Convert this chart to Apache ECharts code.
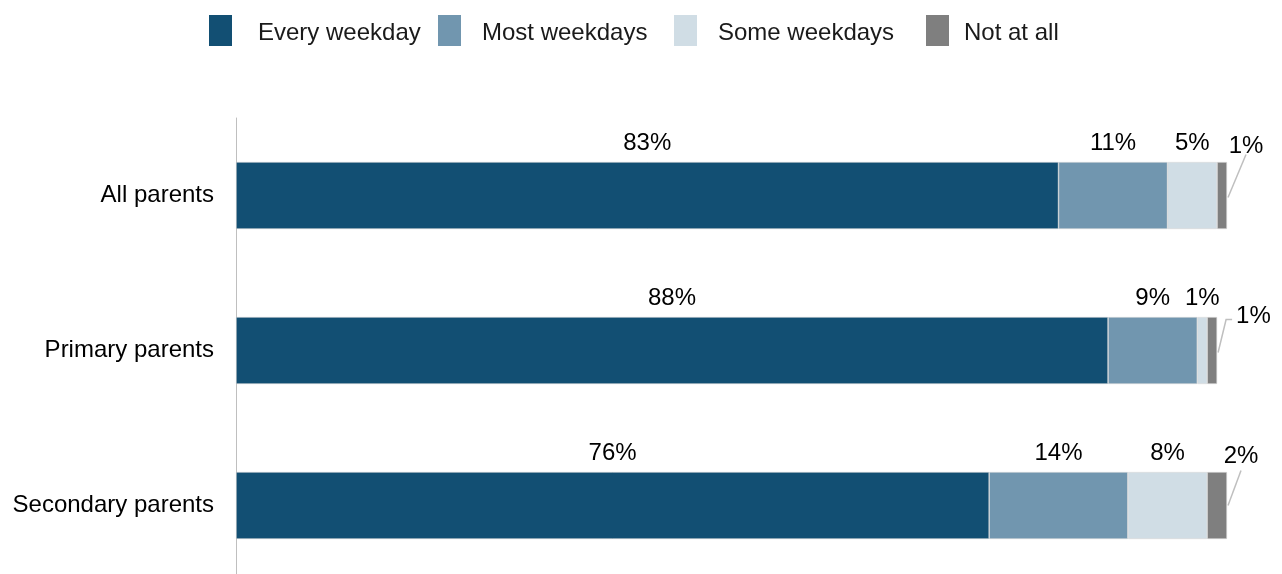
<!DOCTYPE html>
<html>
<head>
<meta charset="utf-8">
<script src="https://cdn.jsdelivr.net/npm/echarts@6/dist/echarts.min.js"></script>
<style>
  html, body { margin: 0; padding: 0; background: #fff; }
  #chart { width: 1282px; height: 574px; }
</style>
</head>
<body>
<div id="chart"></div>
<script>
// Parent groups shown as rows, top to bottom
const categories = ['All parents', 'Primary parents', 'Secondary parents'];
// Frequency answers (stack order, left to right)
const seriesNames = ['Every weekday', 'Most weekdays', 'Some weekdays', 'Not at all'];
// Percentages per group
const everyWeekday = [83, 88, 76];
const mostWeekdays = [11, 9, 14];
const someWeekdays = [5, 1, 8];
const notAtAll = [1, 1, 2];

const values = [everyWeekday, mostWeekdays, someWeekdays, notAtAll];
const colors = ['#124F73', '#7196AF', '#D0DDE5', '#7F7F7F'];
const FONT = '"Liberation Sans", Arial, sans-serif';
const FONT_SIZE = 24;

// Guide lines for the thin "Not at all" segments: offsets from the bar's right end (middle)
const guides = [
  { line: [[1, 2], [19, -41]], text: [19, -49], align: 'center' },
  { line: [[1, 2], [9, -31], [15, -31]], text: [19, -34], align: 'left' },
  { line: [[1, 0], [14, -35]], text: [14, -49], align: 'center' }
];

// Legend placement: swatch left edge and gap before its text
const legendLefts = [209, 438, 674, 926];
const legendTextGaps = [21, 16, 16, 10];

const chart = echarts.init(document.getElementById('chart'), null, { renderer: 'canvas' });

const series = seriesNames.map((name, i) => ({
  name: name,
  type: 'bar',
  stack: 'total',
  barWidth: 67,
  data: values[i],
  itemStyle: { color: colors[i], borderColor: '#D9D9D9', borderWidth: 0.6 },
  label: {
    show: i < 3,
    position: 'top',
    distance: 7,
    formatter: '{c}%',
    fontFamily: FONT,
    fontSize: FONT_SIZE,
    color: '#000'
  }
}));

// Value labels with leader lines for the "Not at all" segments
const guideData = categories.map((c, k) => [
  everyWeekday[k] + mostWeekdays[k] + someWeekdays[k] + notAtAll[k],
  k,
  notAtAll[k]
]);

series.push({
  type: 'custom',
  clip: false,
  silent: true,
  encode: { x: 0, y: 1 },
  data: guideData,
  renderItem: function (params, api) {
    const g = guides[params.dataIndex];
    const p = api.coord([api.value(0), api.value(1)]);
    return {
      type: 'group',
      children: [
        {
          type: 'polyline',
          shape: { points: g.line.map(d => [p[0] + d[0], p[1] + d[1]]) },
          style: { stroke: '#BFBFBF', lineWidth: 1.5, fill: null }
        },
        {
          type: 'text',
          x: p[0] + g.text[0],
          y: p[1] + g.text[1],
          style: {
            text: api.value(2) + '%',
            fontFamily: FONT,
            fontSize: FONT_SIZE,
            fill: '#000',
            align: g.align,
            verticalAlign: 'middle'
          }
        }
      ]
    };
  }
});

const legends = seriesNames.map((name, i) => ({
  data: [name],
  left: legendLefts[i],
  top: 15,
  padding: 0,
  itemWidth: 23,
  itemHeight: 31,
  icon: 'rect',
  selectedMode: false,
  itemStyle: { borderWidth: 0 },
  formatter: '{t|{name}}',
  textStyle: {
    fontFamily: FONT,
    fontSize: FONT_SIZE,
    color: '#1a1a1a',
    rich: {
      t: {
        fontFamily: FONT,
        fontSize: FONT_SIZE,
        color: '#1a1a1a',
        padding: [5, 0, 0, legendTextGaps[i]]
      }
    }
  }
}));

chart.setOption({
  animation: false,
  color: colors,
  legend: legends,
  grid: {
    left: 236, right: 55, top: 118, height: 465,
    containLabel: false,
    outerBoundsMode: 'none'
  },
  xAxis: {
    type: 'value',
    min: 0,
    max: 100,
    show: false
  },
  yAxis: {
    type: 'category',
    data: categories,
    inverse: true,
    axisLine: { show: true, lineStyle: { color: '#BFBFBF', width: 1 } },
    axisTick: { show: false },
    axisLabel: {
      fontFamily: FONT,
      fontSize: FONT_SIZE,
      color: '#000',
      margin: 22,
      padding: [3, 0, 0, 0]
    }
  },
  series: series
});
</script>
</body>
</html>
